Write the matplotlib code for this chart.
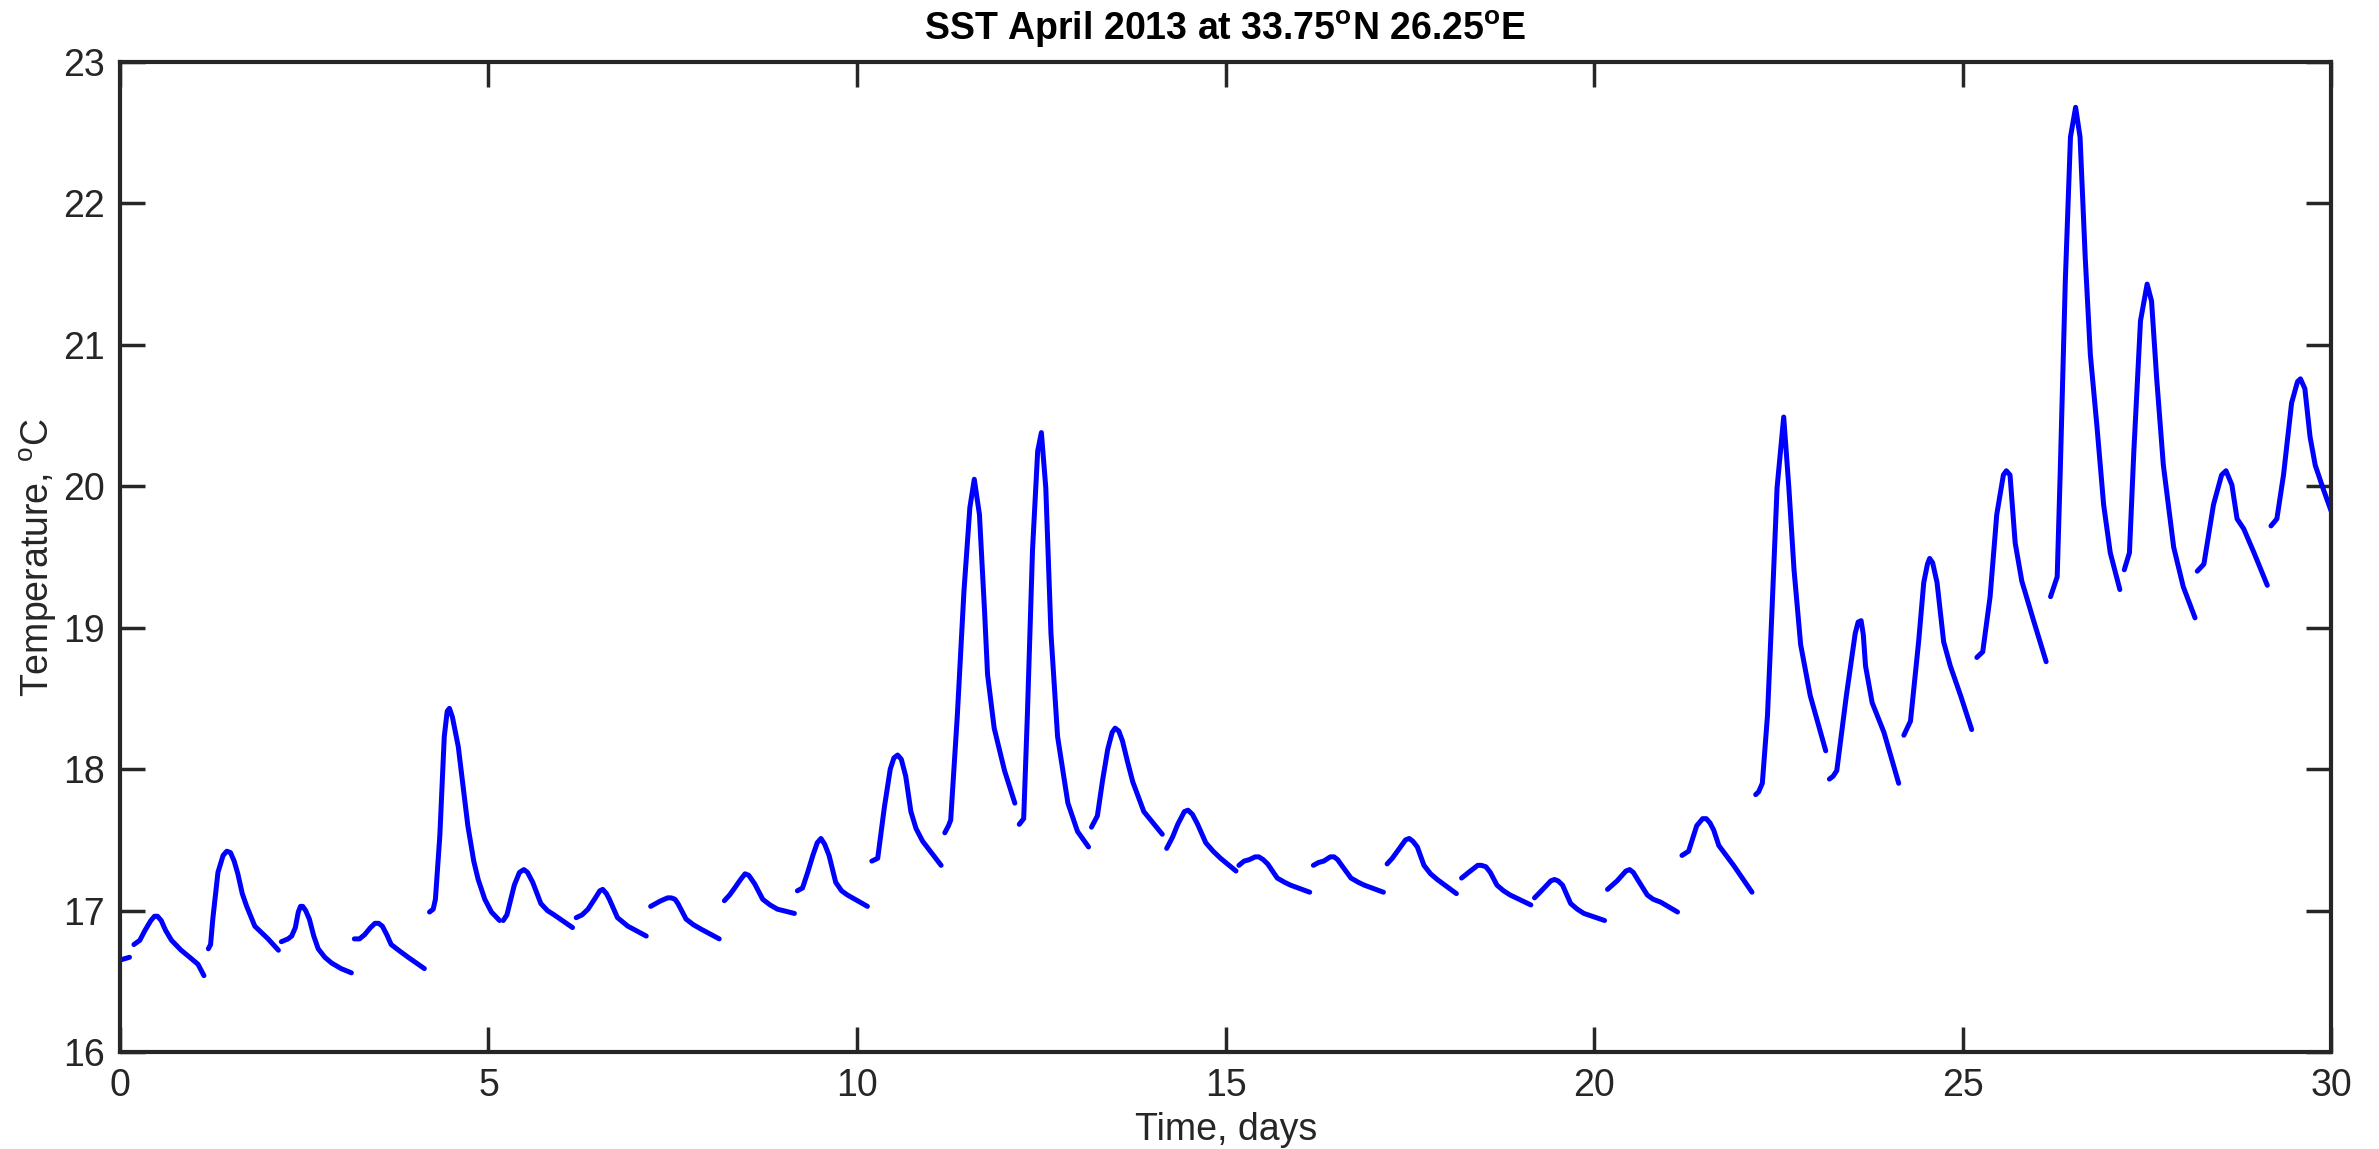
import matplotlib
matplotlib.use("Agg")
import matplotlib.pyplot as plt

plt.rcParams['font.family'] = ['Liberation Sans', 'DejaVu Sans']
plt.rcParams['mathtext.fontset'] = 'custom'
plt.rcParams['mathtext.rm'] = 'Liberation Sans'
plt.rcParams['mathtext.bf'] = 'Liberation Sans:bold'

# Daily SST segments (time in days, temperature in degC)
times = [
    [0.00, 0.13],
    [0.19, 0.27, 0.34, 0.42, 0.47, 0.51, 0.56, 0.62, 0.70, 0.83, 0.97, 1.06, 1.14],
    [1.20, 1.23, 1.26, 1.33, 1.40, 1.45, 1.50, 1.55, 1.60, 1.66, 1.72, 1.83, 2.01, 2.15],
    [2.19, 2.28, 2.33, 2.38, 2.42, 2.45, 2.48, 2.52, 2.57, 2.63, 2.69, 2.78, 2.87, 3.00, 3.14],
    [3.18, 3.25, 3.32, 3.40, 3.46, 3.51, 3.56, 3.62, 3.68, 3.78, 3.91, 4.13],
    [4.20, 4.25, 4.28, 4.34, 4.40, 4.44, 4.47, 4.51, 4.59, 4.72, 4.80, 4.86, 4.95, 5.04, 5.15],
    [5.20, 5.25, 5.35, 5.42, 5.48, 5.53, 5.60, 5.71, 5.80, 5.89, 6.14],
    [6.19, 6.27, 6.35, 6.45, 6.51, 6.55, 6.60, 6.64, 6.75, 6.89, 7.14],
    [7.20, 7.34, 7.43, 7.48, 7.53, 7.57, 7.68, 7.78, 7.88, 8.13],
    [8.20, 8.27, 8.34, 8.42, 8.48, 8.53, 8.61, 8.72, 8.82, 8.92, 9.15],
    [9.19, 9.26, 9.33, 9.40, 9.46, 9.51, 9.56, 9.62, 9.71, 9.79, 9.87, 10.14],
    [10.20, 10.28, 10.37, 10.45, 10.50, 10.55, 10.60, 10.66, 10.73, 10.80, 10.89, 11.14],
    [11.19, 11.24, 11.27, 11.36, 11.45, 11.53, 11.59, 11.66, 11.73, 11.77, 11.86, 12.00, 12.14],
    [12.20, 12.26, 12.31, 12.38, 12.45, 12.50, 12.56, 12.63, 12.72, 12.86, 12.99, 13.14],
    [13.18, 13.26, 13.33, 13.40, 13.46, 13.50, 13.55, 13.60, 13.67, 13.74, 13.89, 14.14],
    [14.20, 14.28, 14.35, 14.44, 14.49, 14.55, 14.62, 14.73, 14.83, 14.93, 15.14],
    [15.18, 15.25, 15.32, 15.40, 15.45, 15.51, 15.57, 15.70, 15.80, 15.88, 16.14],
    [16.19, 16.26, 16.33, 16.42, 16.47, 16.52, 16.56, 16.70, 16.80, 16.88, 17.14],
    [17.19, 17.26, 17.33, 17.44, 17.49, 17.54, 17.60, 17.69, 17.78, 17.87, 18.13],
    [18.20, 18.32, 18.42, 18.47, 18.53, 18.59, 18.68, 18.77, 18.86, 19.14],
    [19.19, 19.32, 19.41, 19.46, 19.51, 19.57, 19.68, 19.77, 19.86, 20.14],
    [20.18, 20.31, 20.43, 20.48, 20.53, 20.60, 20.72, 20.80, 20.90, 21.13],
    [21.19, 21.28, 21.39, 21.47, 21.52, 21.57, 21.62, 21.69, 21.79, 21.89, 22.14],
    [22.19, 22.23, 22.28, 22.35, 22.41, 22.48, 22.57, 22.64, 22.71, 22.80, 22.93, 23.14],
    [23.19, 23.24, 23.29, 23.42, 23.54, 23.58, 23.62, 23.65, 23.68, 23.77, 23.93, 24.13],
    [24.20, 24.29, 24.40, 24.47, 24.52, 24.55, 24.59, 24.65, 24.74, 24.83, 24.97, 25.12],
    [25.19, 25.27, 25.37, 25.46, 25.55, 25.59, 25.64, 25.71, 25.80, 25.96, 26.13],
    [26.19, 26.28, 26.32, 26.39, 26.46, 26.53, 26.59, 26.66, 26.73, 26.82, 26.91, 27.00, 27.13],
    [27.19, 27.26, 27.32, 27.41, 27.50, 27.56, 27.63, 27.72, 27.86, 27.99, 28.15],
    [28.18, 28.27, 28.40, 28.51, 28.57, 28.65, 28.72, 28.81, 28.95, 29.13],
    [29.18, 29.26, 29.35, 29.46, 29.54, 29.58, 29.64, 29.71, 29.78, 29.89, 30.00],
]
temps = [
    [16.65, 16.67],
    [16.76, 16.79, 16.86, 16.93, 16.96, 16.96, 16.93, 16.86, 16.79, 16.72, 16.66, 16.62, 16.54],
    [16.73, 16.76, 16.94, 17.27, 17.39, 17.42, 17.41, 17.35, 17.26, 17.12, 17.03, 16.89, 16.80, 16.72],
    [16.78, 16.80, 16.82, 16.88, 16.99, 17.03, 17.03, 17.00, 16.94, 16.82, 16.73, 16.67, 16.63, 16.59, 16.56],
    [16.80, 16.80, 16.83, 16.88, 16.91, 16.91, 16.89, 16.83, 16.76, 16.72, 16.67, 16.59],
    [16.99, 17.01, 17.08, 17.53, 18.23, 18.41, 18.43, 18.37, 18.16, 17.60, 17.35, 17.22, 17.08, 16.99, 16.93],
    [16.93, 16.97, 17.18, 17.27, 17.29, 17.27, 17.20, 17.05, 17.00, 16.97, 16.88],
    [16.95, 16.97, 17.01, 17.09, 17.14, 17.15, 17.12, 17.08, 16.95, 16.89, 16.82],
    [17.03, 17.07, 17.09, 17.09, 17.08, 17.05, 16.94, 16.90, 16.87, 16.80],
    [17.07, 17.11, 17.16, 17.22, 17.26, 17.25, 17.19, 17.08, 17.04, 17.01, 16.98],
    [17.14, 17.16, 17.27, 17.39, 17.48, 17.51, 17.47, 17.39, 17.20, 17.14, 17.11, 17.03],
    [17.35, 17.37, 17.73, 18.00, 18.08, 18.10, 18.07, 17.95, 17.70, 17.58, 17.49, 17.32],
    [17.55, 17.60, 17.64, 18.38, 19.26, 19.85, 20.05, 19.80, 19.11, 18.67, 18.29, 17.99, 17.76],
    [17.61, 17.65, 18.38, 19.55, 20.25, 20.38, 19.99, 18.96, 18.23, 17.76, 17.56, 17.45],
    [17.59, 17.67, 17.92, 18.14, 18.26, 18.29, 18.27, 18.20, 18.05, 17.91, 17.70, 17.54],
    [17.44, 17.52, 17.61, 17.70, 17.71, 17.68, 17.61, 17.48, 17.42, 17.37, 17.28],
    [17.32, 17.35, 17.36, 17.38, 17.38, 17.36, 17.33, 17.23, 17.20, 17.18, 17.13],
    [17.32, 17.34, 17.35, 17.38, 17.38, 17.36, 17.33, 17.23, 17.20, 17.18, 17.13],
    [17.33, 17.37, 17.42, 17.50, 17.51, 17.49, 17.45, 17.32, 17.26, 17.22, 17.12],
    [17.23, 17.28, 17.32, 17.32, 17.31, 17.27, 17.18, 17.14, 17.11, 17.04],
    [17.09, 17.16, 17.21, 17.22, 17.21, 17.18, 17.05, 17.01, 16.98, 16.93],
    [17.15, 17.21, 17.28, 17.29, 17.27, 17.21, 17.11, 17.08, 17.06, 16.99],
    [17.39, 17.42, 17.60, 17.65, 17.65, 17.62, 17.57, 17.46, 17.39, 17.32, 17.13],
    [17.82, 17.84, 17.90, 18.38, 19.11, 19.99, 20.49, 19.99, 19.41, 18.88, 18.52, 18.13],
    [17.93, 17.95, 17.99, 18.52, 18.96, 19.04, 19.05, 18.95, 18.73, 18.47, 18.26, 17.90],
    [18.24, 18.34, 18.90, 19.32, 19.45, 19.49, 19.46, 19.32, 18.90, 18.73, 18.52, 18.28],
    [18.79, 18.83, 19.22, 19.80, 20.08, 20.11, 20.08, 19.60, 19.33, 19.05, 18.76],
    [19.22, 19.36, 20.08, 21.45, 22.47, 22.68, 22.47, 21.62, 20.93, 20.42, 19.87, 19.53, 19.27],
    [19.41, 19.53, 20.25, 21.17, 21.43, 21.31, 20.76, 20.15, 19.57, 19.29, 19.07],
    [19.40, 19.45, 19.87, 20.08, 20.11, 20.01, 19.77, 19.70, 19.53, 19.30],
    [19.72, 19.77, 20.08, 20.59, 20.74, 20.76, 20.69, 20.35, 20.15, 19.98, 19.82],
]

x_ticks = [0, 5, 10, 15, 20, 25, 30]
y_ticks = [16, 17, 18, 19, 20, 21, 22, 23]

fig = plt.figure(figsize=(23.79, 11.49), dpi=100)
ax = fig.add_axes([0.0504, 0.0844, 0.9296, 0.8616])

for t, v in zip(times, temps):
    ax.plot(t, v, color=(0, 0, 1), linewidth=3.6,
            solid_capstyle='round', solid_joinstyle='round')

ax.set_xlim(0, 30)
ax.set_ylim(16, 23)
ax.set_xticks(x_ticks)
ax.set_yticks(y_ticks)

for s in ax.spines.values():
    s.set_linewidth(3)
    s.set_color('#262626')
ax.tick_params(direction='in', length=18, width=2.5, color='#262626',
               labelsize=27, labelcolor='#262626', top=True, right=True)
ax.tick_params(axis='x', pad=11.5)
ax.tick_params(axis='y', pad=11)

ax.set_title(r'SST April 2013 at 33.75$^\mathbf{o}$N 26.25$^\mathbf{o}$E',
             fontsize=27, fontweight='bold', pad=16)
ax.set_xlabel('Time, days', fontsize=27, color='#262626', labelpad=6)
ax.set_ylabel(r'Temperature, $^\mathrm{o}$C', fontsize=27, color='#262626', labelpad=3)

fig.savefig('out.png', dpi=100)
